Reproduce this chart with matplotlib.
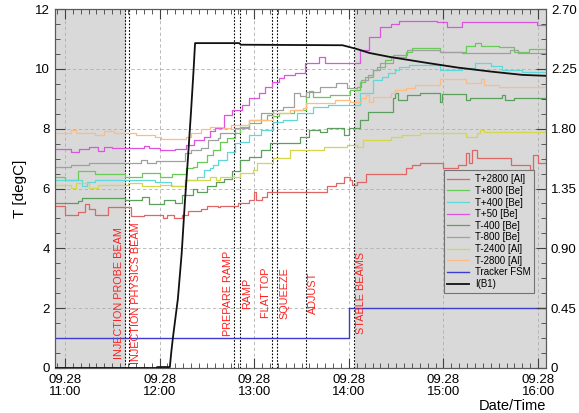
import matplotlib
matplotlib.use("Agg")
import matplotlib.pyplot as plt
from matplotlib.ticker import FixedLocator, MultipleLocator, AutoMinorLocator, FuncFormatter

plt.rcParams["font.family"] = ["Liberation Sans", "DejaVu Sans"]

# time axis: minutes after 11:00 on 09.28
X_MIN, X_MAX = -6.3, 305

# temperature readings (degC), step data: (minute, value)
t2800al_t = [-6, 0, 8, 13, 15, 19, 27, 38, 42, 50, 62, 65, 69, 74, 78, 86, 90, 97, 98, 105, 110, 113,
             117, 120, 121, 125, 128, 166, 172, 177, 181, 182, 185, 191, 216, 220, 225, 240, 249,
             254, 256, 258, 261, 283, 295, 297, 300, 305]
t2800al_v = [5.40, 5.13, 5.20, 5.47, 5.30, 5.10, 5.37, 5.37, 5.07, 5.13, 5.03, 5.13, 5.03, 5.13, 5.24,
             5.30, 5.43, 5.37, 5.41, 5.40, 5.50, 5.53, 5.63, 5.90, 5.63, 5.73, 5.87, 6.07, 6.20, 6.40,
             6.30, 6.13, 6.23, 6.47, 6.70, 6.80, 6.87, 6.70, 6.80, 7.20, 6.87, 7.30, 7.03, 6.80, 6.63,
             7.13, 6.87, 7.07]

tp800_t = [-6, 0, 8, 19, 38, 49, 60, 68, 77, 81, 84, 90, 94, 98, 103, 108, 111, 117, 124, 128, 132,
           136, 145, 153, 155, 157, 168, 181, 187, 190, 195, 198, 203, 207, 216, 220, 238, 254, 260,
           264, 275, 285, 294, 305]
tp800_v = [6.40, 6.30, 6.57, 6.47, 6.40, 6.53, 6.40, 6.47, 6.70, 6.73, 6.90, 7.13, 7.30, 7.57, 7.70,
           7.87, 8.07, 8.20, 8.30, 8.47, 8.43, 8.53, 8.63, 9.07, 9.27, 9.07, 9.13, 9.30, 9.57, 9.73,
           9.97, 10.07, 10.30, 10.40, 10.57, 10.70, 10.57, 10.77, 10.87, 10.77, 10.73, 10.57, 10.67,
           10.63]

tp400_t = [-6, 8, 11, 14, 19, 40, 57, 67, 76, 81, 84, 88, 92, 94, 97, 103, 108, 111, 117, 124, 132,
           138, 147, 152, 157, 167, 184, 187, 195, 201, 205, 209, 212, 218, 238, 252, 260, 270, 277,
           290, 305]
tp400_v = [6.27, 6.30, 6.07, 6.23, 6.30, 6.30, 6.23, 6.10, 6.27, 6.30, 6.40, 6.63, 6.70, 6.80, 6.97,
           7.23, 7.53, 7.57, 7.80, 7.97, 8.23, 8.30, 8.53, 8.53, 8.73, 8.80, 8.80, 9.20, 9.63, 9.73,
           9.87, 9.97, 10.07, 10.13, 9.97, 10.03, 10.20, 10.10, 9.97, 9.90, 9.87]

tp50_t = [-6, 4, 9, 15, 21, 25, 30, 50, 53, 60, 70, 77, 82, 88, 92, 95, 101, 106, 112, 117, 123, 127,
          131, 136, 139, 146, 152, 161, 165, 187, 193, 200, 207, 212, 236, 242, 252, 299, 305]
tp50_v = [7.33, 7.23, 7.33, 7.40, 7.27, 7.40, 7.37, 7.43, 7.37, 7.30, 7.33, 7.47, 7.63, 7.73, 7.93,
          8.03, 8.47, 8.63, 8.80, 9.03, 9.20, 9.40, 9.57, 9.70, 9.80, 9.87, 10.20, 10.40, 10.20,
          10.63, 11.07, 11.40, 11.50, 11.60, 11.57, 11.40, 11.57, 11.47, 11.40]

tm400_t = [-6, 8, 11, 21, 38, 49, 53, 63, 70, 74, 81, 84, 90, 96, 101, 106, 111, 117, 124, 130, 149,
           155, 162, 166, 177, 180, 187, 192, 208, 209, 211, 217, 225, 238, 239, 254, 257, 277, 279,
           285, 305]
tm400_v = [5.53, 5.57, 5.70, 5.70, 5.63, 5.73, 5.47, 5.63, 5.53, 5.80, 5.97, 5.87, 6.07, 6.23, 6.33,
           6.57, 6.97, 7.07, 7.30, 7.53, 7.73, 7.97, 7.90, 8.03, 7.80, 8.03, 8.30, 8.57, 9.03, 9.20,
           8.97, 9.13, 9.20, 8.90, 9.17, 8.97, 9.03, 9.13, 8.97, 9.03, 8.97]

tm800_t = [-6, 4, 15, 48, 52, 58, 67, 76, 80, 86, 91, 97, 98, 108, 117, 124, 132, 138, 145, 149, 153,
           162, 172, 179, 185, 188, 192, 195, 200, 208, 217, 238, 252, 282, 287, 305]
tm800_v = [6.73, 6.80, 6.87, 6.97, 6.87, 6.93, 6.93, 7.20, 7.30, 7.37, 7.63, 7.70, 7.87, 8.03, 8.30,
           8.53, 8.63, 8.73, 9.20, 9.10, 9.23, 9.40, 9.53, 9.37, 9.40, 9.63, 9.80, 9.97, 10.20, 10.47,
           10.63, 10.57, 10.53, 10.63, 10.53, 10.53]

tm2400_t = [-6, 4, 7, 15, 21, 40, 49, 60, 68, 76, 90, 92, 96, 98, 105, 111, 119, 122, 132, 143, 164,
            179, 185, 189, 207, 214, 225, 254, 261, 263, 266, 305]
tm2400_v = [6.13, 6.03, 6.20, 6.03, 6.13, 6.17, 6.10, 6.13, 6.07, 6.27, 6.30, 6.40, 6.30, 6.37, 6.40,
            6.53, 6.63, 6.87, 7.03, 7.30, 7.40, 7.47, 7.40, 7.63, 7.73, 7.80, 7.87, 7.73, 7.87, 7.97,
            7.90, 7.90]

tm2800_t = [-6, 4, 7, 19, 25, 31, 45, 57, 61, 77, 80, 86, 92, 100, 105, 117, 132, 143, 151, 153, 171,
            181, 188, 191, 193, 195, 207, 209, 216, 222, 238, 254, 264, 266, 275, 305]
tm2800_v = [7.87, 7.97, 7.87, 7.80, 7.93, 7.87, 7.80, 7.73, 7.67, 7.73, 7.87, 8.00, 8.07, 8.03, 8.13,
            8.30, 8.53, 8.63, 8.70, 8.87, 8.97, 8.90, 9.03, 9.13, 8.90, 9.07, 9.20, 9.30, 9.37, 9.47,
            9.67, 9.53, 9.67, 9.47, 9.40, 9.40]

# tracker FSM state, drawn on the temperature scale
fsm_t = [-6, 180, 305]
fsm_v = [1, 2, 2]

# beam 1 intensity (right axis)
ib1_t = [-6, 58, 58.5, 66.5, 67.5, 68.5, 71.6, 74, 76, 78, 80, 81.5, 82.5, 110.5, 111.5, 176, 185,
         193, 206, 227, 249, 270, 290, 305]
ib1_v = [0.0, 0.0, 0.007, 0.007, 0.128, 0.232, 0.52, 0.86, 1.24, 1.58, 1.94, 2.23, 2.444, 2.444,
         2.432, 2.428, 2.40, 2.37, 2.34, 2.30, 2.26, 2.23, 2.205, 2.198]

# machine mode changes
event_t = [38.0, 40.6, 107.1, 110.9, 131.2, 134.4, 152.8, 183.2]
event_names = ["INJECTION PROBE BEAM", "INJECTION PHYSICS BEAM", "PREPARE RAMP", "RAMP",
               "FLAT TOP", "SQUEEZE", "ADJUST", "STABLE BEAMS"]
event_side = [-1, 1, -1, 1, -1, 1, 1, 1]

# periods without stable beam conditions
shade_spans = [(X_MIN, 38.6), (183.9, X_MAX)]

hour_ticks = [0, 60, 120, 180, 240, 300]
hour_labels = ["09.28\n11:00", "09.28\n12:00", "09.28\n13:00", "09.28\n14:00", "09.28\n15:00",
               "09.28\n16:00"]

series = [
    ("T+2800 [Al]", t2800al_t, t2800al_v, "#e06666"),
    ("T+800 [Be]", tp800_t, tp800_v, "#66cc55"),
    ("T+400 [Be]", tp400_t, tp400_v, "#5fd8d8"),
    ("T+50 [Be]", tp50_t, tp50_v, "#dd55dd"),
    ("T-400 [Be]", tm400_t, tm400_v, "#5c9e5c"),
    ("T-800 [Be]", tm800_t, tm800_v, "#a0a0a0"),
    ("T-2400 [Al]", tm2400_t, tm2400_v, "#d6d64a"),
    ("T-2800 [Al]", tm2800_t, tm2800_v, "#ffbb80"),
]

fig = plt.figure(figsize=(5.79, 4.13), dpi=100)
ax = fig.add_axes([0.095, 0.109, 0.848, 0.869])

for x0, x1 in shade_spans:
    ax.axvspan(x0, x1, color="#d9d9d9", lw=0, zorder=0)

handles = []
for name, t, v, col in series:
    h, = ax.step(t, v, where="post", color=col, lw=0.9, label=name, zorder=3)
    handles.append(h)
h, = ax.step(fsm_t, fsm_v, where="post", color="#3c3cd0", lw=1.0, label="Tracker FSM", zorder=3)
handles.append(h)

for t, name, side in zip(event_t, event_names, event_side):
    ax.axvline(t, color="black", lw=0.8, ls=(0, (1.5, 1.5)), zorder=2)
    ax.annotate(name, xy=(t, 2.5), xytext=(-4.4 if side < 0 else 5.4, 0),
                textcoords="offset points", rotation=90, ha="center", va="center",
                color="#ff2020", fontsize=7.8, zorder=4)

ax.set_xlim(X_MIN, X_MAX)
ax.set_ylim(0, 12)
ax.xaxis.set_major_locator(FixedLocator(hour_ticks))
ax.set_xticklabels(hour_labels, linespacing=1.0)
ax.xaxis.set_minor_locator(MultipleLocator(5))
ax.yaxis.set_major_locator(MultipleLocator(2))
ax.yaxis.set_minor_locator(MultipleLocator(0.5))
ax.tick_params(which="both", direction="in", top=True, labelsize=9.5, colors="0.25",
               labelcolor="black")
ax.tick_params(which="major", length=7, width=0.8)
ax.tick_params(which="minor", length=3.5, width=0.6)
ax.tick_params(axis="x", pad=4)
ax.grid(True, which="major", color="#b0b0b0", ls=(0, (4, 3)), lw=0.6)
ax.set_axisbelow(True)
ax.set_ylabel("T [degC]", fontsize=11, labelpad=6)
for sp in ax.spines.values():
    sp.set_color("0.35")

ax2 = ax.twinx()
h, = ax2.plot(ib1_t, ib1_v, color="#111111", lw=1.3, label="I(B1)", zorder=3)
handles.append(h)
ax2.set_ylim(0, 2.7)
ax2.yaxis.set_major_locator(MultipleLocator(0.45))
ax2.yaxis.set_minor_locator(AutoMinorLocator(4))
ax2.yaxis.set_major_formatter(FuncFormatter(lambda y, _: "0" if y == 0 else f"{y:.2f}"))
ax2.tick_params(which="both", direction="in", labelsize=9.5, colors="0.25", labelcolor="black")
ax2.tick_params(which="major", length=7, width=0.8)
ax2.tick_params(which="minor", length=3.5, width=0.6)
for sp in ax2.spines.values():
    sp.set_color("0.35")

leg = ax2.legend(handles=handles, loc="lower right", bbox_to_anchor=(0.976, 0.209),
                 fontsize=7, frameon=True, fancybox=False, handlelength=2.2,
                 labelspacing=0.17, borderpad=0.4, handletextpad=0.6, borderaxespad=0)
leg.get_frame().set_facecolor("#d9d9d9")
leg.get_frame().set_edgecolor("0.45")
leg.get_frame().set_linewidth(0.8)
leg.get_frame().set_alpha(1)

fig.text(0.943, 0.0, "Date/Time", ha="right", va="bottom", fontsize=10.5)

fig.savefig("out.png", dpi=100)
